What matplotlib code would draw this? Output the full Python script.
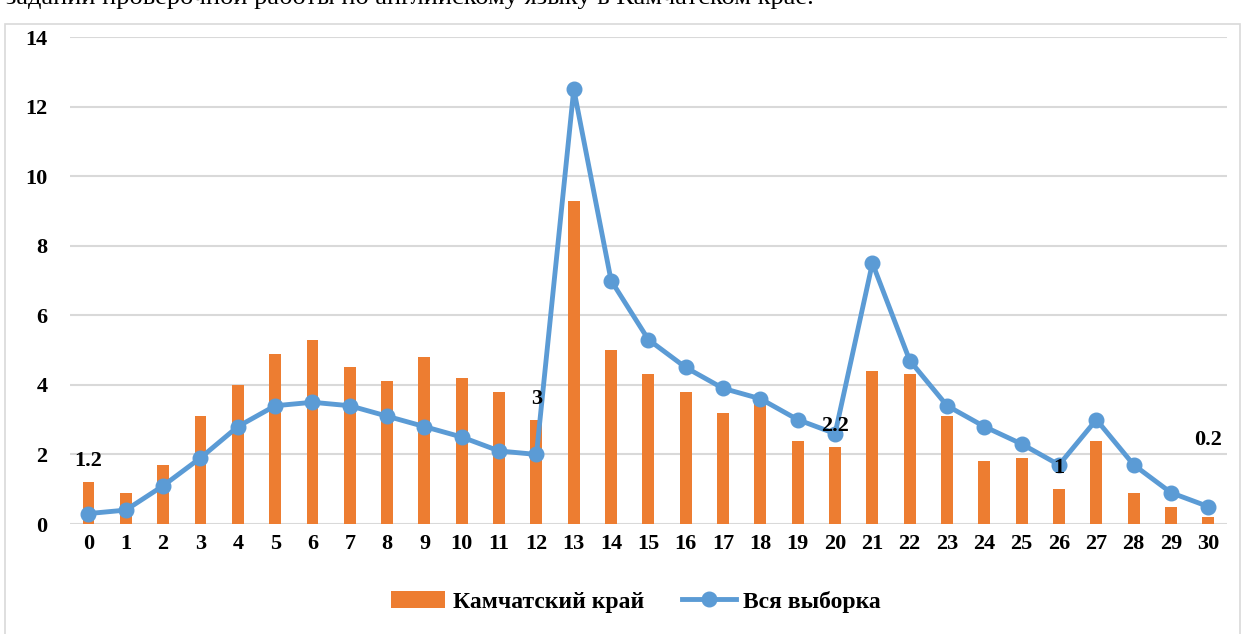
import matplotlib.pyplot as plt
from matplotlib.patches import Rectangle

plt.rcParams['font.family'] = ['Liberation Serif', 'DejaVu Serif']
plt.rcParams['font.weight'] = 'bold'

# data
categories = list(range(31))
kamchatka = [1.2, 0.9, 1.7, 3.1, 4.0, 4.9, 5.3, 4.5, 4.1, 4.8, 4.2, 3.8, 3.0, 9.3, 5.0,
             4.3, 3.8, 3.2, 3.6, 2.4, 2.2, 4.4, 4.3, 3.1, 1.8, 1.9, 1.0, 2.4, 0.9, 0.5, 0.2]
whole_sample = [0.3, 0.4, 1.1, 1.9, 2.8, 3.4, 3.5, 3.4, 3.1, 2.8, 2.5, 2.1, 2.0, 12.5, 7.0,
                5.3, 4.5, 3.9, 3.6, 3.0, 2.6, 7.5, 4.7, 3.4, 2.8, 2.3, 1.7, 3.0, 1.7, 0.9, 0.5]
labelled = {0: '1.2', 12: '3', 20: '2.2', 26: '1', 30: '0.2'}

fig = plt.figure(figsize=(12.47, 6.34), dpi=100)
ax = fig.add_axes([0.056, 0.1735, 0.928, 0.768])

# outer chart frame
fig.patches.append(Rectangle((0.004, -0.01), 0.99, 0.972, transform=fig.transFigure,
                             fill=False, edgecolor='#D9D9D9', linewidth=1.2))
# cut-off line of text above the chart
fig.text(0.005, 1.004, 'заданий проверочной работы по английскому языку в Камчатском крае.',
         fontsize=19, fontweight='normal', va='center', ha='left')

bars = ax.bar(categories, kamchatka, width=0.32, color='#ED7D31', label='Камчатский край', zorder=2)
line, = ax.plot(categories, whole_sample, color='#5B9BD5', linewidth=3.5, marker='o',
                markersize=10.5, label='Вся выборка', zorder=3)

for i, txt in labelled.items():
    extra = 1.6 if i == 30 else 0.0
    ax.annotate(txt, (categories[i], kamchatka[i] + extra), xytext=(0, 8),
                textcoords='offset points', ha='center', va='bottom', fontsize=16,
                fontweight='bold', zorder=4)

ax.set_xlim(-0.5, 30.5)
ax.set_ylim(0, 14)
ax.set_yticks(range(0, 15, 2))
ax.set_xticks(categories)
ax.tick_params(axis='both', length=0, labelsize=16, pad=7)
ax.tick_params(axis='y', pad=16)
ax.grid(axis='y', color='#D9D9D9', linewidth=1.5, zorder=0)
ax.set_axisbelow(True)
for s in ax.spines.values():
    s.set_visible(False)

fig.legend([bars, line], ['Камчатский край', 'Вся выборка'], loc='lower center',
           bbox_to_anchor=(0.51, 0.0), ncol=2, frameon=False,
           fontsize=17, handlelength=2.3, handletextpad=0.3, columnspacing=1.6)

fig.savefig('out.png')
